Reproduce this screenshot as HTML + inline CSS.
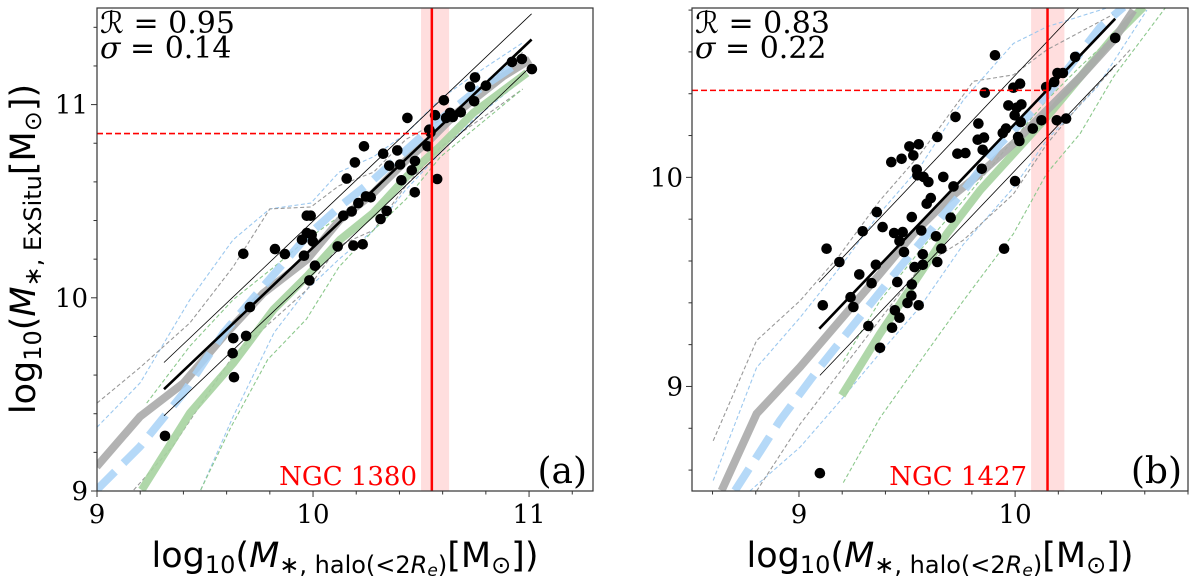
<!DOCTYPE html>
<html><head><meta charset="utf-8"><style>
html,body{margin:0;padding:0;background:#fff;}
svg{display:block;}
text{font-family:"DejaVu Sans","Liberation Sans",sans-serif;}
.serif{font-family:"DejaVu Serif","Liberation Serif",serif;}
</style></head><body>
<svg id="fig" width="1200" height="585" viewBox="0 0 1200 585" xmlns="http://www.w3.org/2000/svg"></svg>
<script>
// ---------- Panel (a) data ----------
const aPtsX=[9.315,9.677,9.631,9.628,9.634,9.69,9.708,9.824,9.87,9.949,9.971,9.989,9.971,9.994,9.999,9.958,10.009,9.983,10.114,10.187,10.23,10.156,10.194,10.236,10.14,10.179,10.21,10.245,10.267,10.313,10.341,10.325,10.353,10.39,10.403,10.409,10.437,10.457,10.472,10.471,10.53,10.538,10.544,10.575,10.565,10.606,10.616,10.634,10.647,10.684,10.727,10.746,10.75,10.8,10.921,10.967,11.013];
const aPtsY=[9.285,10.228,9.791,9.713,9.589,9.803,9.952,10.252,10.226,10.30,10.425,10.425,10.335,10.326,10.292,10.218,10.166,10.09,10.266,10.27,10.277,10.617,10.701,10.784,10.425,10.447,10.49,10.525,10.52,10.408,10.45,10.746,10.684,10.763,10.69,10.608,10.931,10.66,10.708,10.546,10.784,10.87,10.856,10.615,10.945,11.022,10.931,10.957,10.936,10.96,11.092,11.017,11.141,11.098,11.221,11.236,11.184];
const aGrayX=[8.998,9.199,9.40,9.585,9.77,9.971,10.125,10.279,10.434,10.542,10.665,10.881,11.005];
const aGrayY=[9.126,9.385,9.558,9.80,10.024,10.197,10.404,10.542,10.715,10.819,10.957,11.147,11.233];
const aBlueX=[8.998,9.199,9.40,9.585,9.77,9.971,10.125,10.279,10.434,10.588,10.742,10.974];
const aBlueY=[9.005,9.23,9.506,9.817,10.059,10.318,10.473,10.611,10.767,10.922,11.06,11.233];
const aGreenX=[9.207,9.43,9.631,9.816,9.971,10.125,10.279,10.434,10.588,10.742,10.99];
const aGreenY=[9.005,9.403,9.662,9.938,10.11,10.30,10.439,10.628,10.784,10.957,11.164];
const aBlueUpX=[9.0,9.2,9.43,9.63,9.80,9.99,10.12,10.28,10.43,10.59,10.74,10.97];
const aBlueUpY=[9.33,9.56,9.99,10.30,10.46,10.49,10.65,10.73,10.85,11.03,11.15,11.32];
const aGrayUpX=[9.0,9.2,9.43,9.63,9.80,9.99,10.12,10.28,10.43,10.67,10.97];
const aGrayUpY=[9.455,9.64,9.87,10.16,10.46,10.47,10.58,10.65,10.82,10.97,11.27];
const aBlueLoX=[9.48,9.63,9.82,9.97,10.12,10.28,10.43,10.59,10.74,10.97];
const aBlueLoY=[9.005,9.385,9.82,10.04,10.20,10.35,10.56,10.75,10.92,11.13];
const aGrayLoX=[9.17,9.35,9.63,9.82,9.97,10.12,10.28,10.43,10.59,10.82,10.97];
const aGrayLoY=[9.005,9.23,9.70,9.89,10.04,10.27,10.35,10.58,10.78,10.96,11.08];
const aGreenLoX=[9.48,9.62,9.79,9.97,10.12,10.28,10.43,10.59,10.97];
const aGreenLoY=[9.005,9.33,9.68,9.89,10.16,10.35,10.51,10.73,11.08];
const aGreenUpX=[9.23,9.43,9.63,9.82,9.97,10.12,10.28,10.43,10.59,10.97];
const aGreenUpY=[9.455,9.75,9.99,10.16,10.30,10.42,10.54,10.73,10.89,11.285];
const aFitX=[9.31,11.012], aFitY=[9.527,11.337];
const aFitUpX=[9.31,11.012], aFitUpY=[9.665,11.47];
const aFitLoX=[9.31,10.99], aFitLoY=[9.389,11.178];
const aGalX=10.55, aGalLo=10.50, aGalHi=10.63, aGalY=10.85;
const aXTicks=[9,10,11], aYTicks=[9,10,11];

// ---------- Panel (b) data ----------
const bPtsX=[9.097,9.128,9.110,9.187,9.239,9.252,9.279,9.295,9.321,9.336,9.36,9.356,9.375,9.387,9.431,9.444,9.455,9.465,9.44,9.465,9.48,9.486,9.427,9.475,9.511,9.529,9.554,9.545,9.548,9.576,9.599,9.522,9.522,9.52,9.502,9.554,9.535,9.573,9.573,9.566,9.591,9.61,9.634,9.64,9.659,9.64,9.668,9.702,9.715,9.724,9.733,9.77,9.83,9.827,9.856,9.85,9.846,9.86,9.907,9.943,9.958,9.949,9.969,10.0,9.992,10.023,9.998,10.008,10.029,10.014,10.02,10.026,10.082,10.122,10.144,10.181,10.196,10.221,10.193,10.236,10.278,10.463];
const bPtsY=[8.585,9.659,9.388,9.595,9.427,9.38,9.536,9.742,9.289,9.494,9.834,9.582,9.185,9.762,9.281,9.364,9.499,9.329,9.734,9.695,9.738,9.643,10.073,10.089,10.148,10.105,10.158,10.037,10.01,10.002,9.978,9.81,9.488,9.434,9.399,9.388,9.571,9.632,9.582,9.746,9.874,9.901,9.718,9.595,9.659,10.193,10.002,9.807,9.957,10.289,10.113,10.116,10.257,10.18,10.19,10.132,10.041,10.405,10.584,10.212,10.233,9.659,10.344,9.982,10.429,10.448,10.297,10.333,10.349,10.193,10.174,10.265,10.233,10.273,10.432,10.456,10.499,10.499,10.273,10.281,10.576,10.667];
const bGrayX=[8.642,8.804,9.005,9.19,9.375,9.529,9.684,9.838,9.992,10.147,10.301,10.455,10.548];
const bGrayY=[8.502,8.869,9.093,9.316,9.539,9.73,9.89,10.018,10.161,10.321,10.48,10.655,10.799];
const bBlueX=[8.704,8.912,9.097,9.282,9.468,9.622,9.776,9.931,10.085,10.239,10.394,10.502];
const bBlueY=[8.502,8.837,9.093,9.332,9.571,9.762,9.954,10.161,10.321,10.512,10.719,10.815];
const bGreenX=[9.198,9.375,9.529,9.684,9.838,9.992,10.147,10.301,10.455,10.594];
const bGreenY=[8.957,9.252,9.491,9.73,9.938,10.113,10.289,10.48,10.671,10.815];
const bGrayUpX=[8.603,8.804,9.005,9.19,9.375,9.56,9.807,9.992,10.147,10.455];
const bGrayUpY=[8.74,9.22,9.41,9.63,9.89,10.11,10.46,10.49,10.61,10.78];
const bBlueUpX=[8.603,8.804,9.005,9.19,9.375,9.56,9.761,9.992,10.147,10.455];
const bBlueUpY=[8.55,9.09,9.33,9.57,9.83,10.05,10.37,10.64,10.72,10.82];
const bGrayLoX=[8.804,9.005,9.205,9.375,9.56,9.761,9.992,10.147,10.301,10.532];
const bGrayLoY=[8.50,8.82,9.09,9.32,9.57,9.70,9.92,10.16,10.35,10.61];
const bBlueLoX=[8.773,9.005,9.19,9.375,9.56,9.761,9.992,10.147,10.378,10.61];
const bBlueLoY=[8.50,8.71,8.93,9.16,9.38,9.68,9.95,10.18,10.43,10.80];
const bGreenLoX=[9.205,9.375,9.56,9.761,9.992,10.147,10.301,10.455,10.702];
const bGreenLoY=[8.54,8.85,9.12,9.41,9.73,10.02,10.21,10.48,10.82];
const bGreenUpX=[9.205,9.375,9.56,9.761,9.992,10.147,10.301,10.532];
const bGreenUpY=[9.12,9.41,9.65,9.89,10.18,10.37,10.53,10.75];
const bFitX=[9.094,10.463], bFitY=[9.276,10.759];
const bFitUpX=[9.094,10.293], bFitUpY=[9.499,10.807];
const bFitLoX=[9.097,10.463], bFitLoY=[9.053,10.536];
const bGalX=10.15, bGalLo=10.074, bGalHi=10.228, bGalY=10.416;
const bXTicks=[9,10], bYTicks=[9,10];

const NS="http://www.w3.org/2000/svg";
const svg=document.getElementById('fig');
function mk(tag,attrs,parent){const e=document.createElementNS(NS,tag);for(const k in attrs)e.setAttribute(k,attrs[k]);(parent||svg).appendChild(e);return e;}

function panel(cfg){
  const g=mk('g',{});
  
  
  const sx=v=>cfg.L+(v-cfg.x0)/(cfg.x1-cfg.x0)*(cfg.R-cfg.L);
  const sy=v=>cfg.B-(v-cfg.y0)/(cfg.y1-cfg.y0)*(cfg.B-cfg.T);
  const cid='clip-'+cfg.name;
  const cp=mk('clipPath',{id:cid},g);mk('rect',{x:cfg.L,y:cfg.T,width:cfg.R-cfg.L,height:cfg.B-cfg.T},cp);
  const pg=mk('g',{'clip-path':'url(#'+cid+')'},g);
  const band=mk('rect',{x:sx(cfg.galLo),y:cfg.T,width:sx(cfg.galHi)-sx(cfg.galLo),height:cfg.B-cfg.T,fill:'#ffdede'},pg);
  
  
  function line(xs,ys,st,name){
    const p=mk('polyline',{points:xs.map((x,i)=>sx(x).toFixed(1)+','+sy(ys[i]).toFixed(1)).join(' '),fill:'none'},pg);
    for(const k in st)p.setAttribute(k,st[k]);
    
    
  }
  const thin={'stroke-width':1.1,'stroke-dasharray':'4,2.5'};
  line(cfg.blueUp[0],cfg.blueUp[1],Object.assign({stroke:'#9cc8ef'},thin),'blue-upper-dashed');
  line(cfg.blueLo[0],cfg.blueLo[1],Object.assign({stroke:'#9cc8ef'},thin),'blue-lower-dashed');
  line(cfg.grayUp[0],cfg.grayUp[1],Object.assign({stroke:'#999'},thin),'gray-upper-dashed');
  line(cfg.grayLo[0],cfg.grayLo[1],Object.assign({stroke:'#999'},thin),'gray-lower-dashed');
  line(cfg.greenUp[0],cfg.greenUp[1],Object.assign({stroke:'#8cc88c'},thin),'green-upper-dashed');
  line(cfg.greenLo[0],cfg.greenLo[1],Object.assign({stroke:'#8cc88c'},thin),'green-lower-dashed');
  line(cfg.green[0],cfg.green[1],{stroke:'#a6d3a0','stroke-width':8,'stroke-opacity':0.9},'green-median');
  line(cfg.gray[0],cfg.gray[1],{stroke:'#aaa','stroke-width':8,'stroke-opacity':0.9},'gray-median');
  line(cfg.blue[0],cfg.blue[1],{stroke:'#a8d2f7','stroke-width':8,'stroke-dasharray':'26,12','stroke-opacity':0.85},'blue-median');
  line(cfg.fitUp[0],cfg.fitUp[1],{stroke:'#000','stroke-width':0.8},'fit-upper-scatter');
  line(cfg.fitLo[0],cfg.fitLo[1],{stroke:'#000','stroke-width':0.8},'fit-lower-scatter');
  line(cfg.fit[0],cfg.fit[1],{stroke:'#000','stroke-width':2.6},'best-fit-line');
  cfg.px.forEach((x,i)=>{
    const c=mk('circle',{cx:sx(x).toFixed(1),cy:sy(cfg.py[i]).toFixed(1),r:5.3,fill:'#000'},pg);
    
    
  });
  const vl=mk('line',{x1:sx(cfg.galX),x2:sx(cfg.galX),y1:cfg.T,y2:cfg.B,stroke:'#f00','stroke-width':2.5},pg);
  
  
  const hl=mk('line',{x1:cfg.L,x2:sx(cfg.galX),y1:sy(cfg.galY),y2:sy(cfg.galY),stroke:'#f00','stroke-width':1.6,'stroke-dasharray':'6,3'},pg);
  
  
  const fr=mk('rect',{x:cfg.L,y:cfg.T,width:cfg.R-cfg.L,height:cfg.B-cfg.T,fill:'none',stroke:'#333','stroke-width':1.2},g);
  
  
  for(let v=Math.ceil(cfg.x0*5)/5; v<=cfg.x1+1e-9; v+=0.2){
    const major=Math.abs(v-Math.round(v))<1e-6;
    mk('line',{x1:sx(v),x2:sx(v),y1:cfg.B,y2:cfg.B+(major?6:3.5),stroke:'#333','stroke-width':1},g);
  }
  for(let v=Math.ceil(cfg.y0*5)/5; v<=cfg.y1+1e-9; v+=0.2){
    const major=Math.abs(v-Math.round(v))<1e-6;
    mk('line',{x1:cfg.L,x2:cfg.L-(major?6:3.5),y1:sy(v),y2:sy(v),stroke:'#333','stroke-width':1},g);
  }
  cfg.xt.forEach(v=>{const t=mk('text',{x:sx(v),y:cfg.B+32,'text-anchor':'middle','font-size':26,class:'serif'},g);t.textContent=String(v);
    });
  cfg.yt.forEach(v=>{const t=mk('text',{x:cfg.L-9,y:sy(v)+9,'text-anchor':'end','font-size':26,class:'serif'},g);t.textContent=String(v);
    });
  const r=mk('text',{x:cfg.L+3,y:cfg.T+25,'font-size':30,class:'serif'},g);r.textContent='ℛ = '+cfg.R2;
  
  const s=mk('text',{x:cfg.L+3,y:cfg.T+50,'font-size':30,class:'serif'},g);s.innerHTML='<tspan font-style="italic">σ</tspan> = '+cfg.sig;
  
  const n=mk('text',{x:sx(cfg.galLo)-4,y:cfg.B-6,'text-anchor':'end','font-size':26,fill:'#f00',class:'serif'},g);n.textContent=cfg.gal;
  
  const pl=mk('text',{x:cfg.R-6,y:cfg.B-8,'text-anchor':'end','font-size':36,class:'serif'},g);pl.textContent=cfg.tag;
  
  const xl=mk('text',{x:(cfg.L+cfg.R)/2,y:567,'text-anchor':'middle','font-size':35},g);
  xl.innerHTML='log<tspan font-size="24" dy="6">10</tspan><tspan dy="-6">(</tspan><tspan font-style="italic">M</tspan><tspan font-size="24" dy="6">∗, halo(&lt;2<tspan font-style="italic">R</tspan><tspan font-size="17" dy="3" font-style="italic">e</tspan><tspan dy="-3">)</tspan></tspan><tspan dy="-6">[M</tspan><tspan font-size="24" dy="6">⊙</tspan><tspan dy="-6">])</tspan>';
  
}

panel({name:'panel-a',L:97,R:593,T:8,B:491,x0:9,x1:11.296,y0:9,y1:11.5,
  px:aPtsX,py:aPtsY,gray:[aGrayX,aGrayY],blue:[aBlueX,aBlueY],green:[aGreenX,aGreenY],
  blueUp:[aBlueUpX,aBlueUpY],blueLo:[aBlueLoX,aBlueLoY],grayUp:[aGrayUpX,aGrayUpY],grayLo:[aGrayLoX,aGrayLoY],
  greenUp:[aGreenUpX,aGreenUpY],greenLo:[aGreenLoX,aGreenLoY],
  fit:[aFitX,aFitY],fitUp:[aFitUpX,aFitUpY],fitLo:[aFitLoX,aFitLoY],
  galX:aGalX,galLo:aGalLo,galHi:aGalHi,galY:aGalY,xt:aXTicks,yt:aYTicks,R2:'0.95',sig:'0.14',gal:'NGC 1380',tag:'(a)'});
panel({name:'panel-b',L:692,R:1188,T:8,B:491,x0:8.505,x1:10.8,y0:8.5,y1:10.81,
  px:bPtsX,py:bPtsY,gray:[bGrayX,bGrayY],blue:[bBlueX,bBlueY],green:[bGreenX,bGreenY],
  blueUp:[bBlueUpX,bBlueUpY],blueLo:[bBlueLoX,bBlueLoY],grayUp:[bGrayUpX,bGrayUpY],grayLo:[bGrayLoX,bGrayLoY],
  greenUp:[bGreenUpX,bGreenUpY],greenLo:[bGreenLoX,bGreenLoY],
  fit:[bFitX,bFitY],fitUp:[bFitUpX,bFitUpY],fitLo:[bFitLoX,bFitLoY],
  galX:bGalX,galLo:bGalLo,galHi:bGalHi,galY:bGalY,xt:bXTicks,yt:bYTicks,R2:'0.83',sig:'0.22',gal:'NGC 1427',tag:'(b)'});

const yl=mk('text',{x:0,y:0,'text-anchor':'middle','font-size':35,transform:'translate(35,249) rotate(-90)'});
yl.innerHTML='log<tspan font-size="24" dy="6">10</tspan><tspan dy="-6">(</tspan><tspan font-style="italic">M</tspan><tspan font-size="24" dy="6">∗, ExSitu</tspan><tspan dy="-6">[M</tspan><tspan font-size="24" dy="6">⊙</tspan><tspan dy="-6">])</tspan>';


</script>
</body></html>
